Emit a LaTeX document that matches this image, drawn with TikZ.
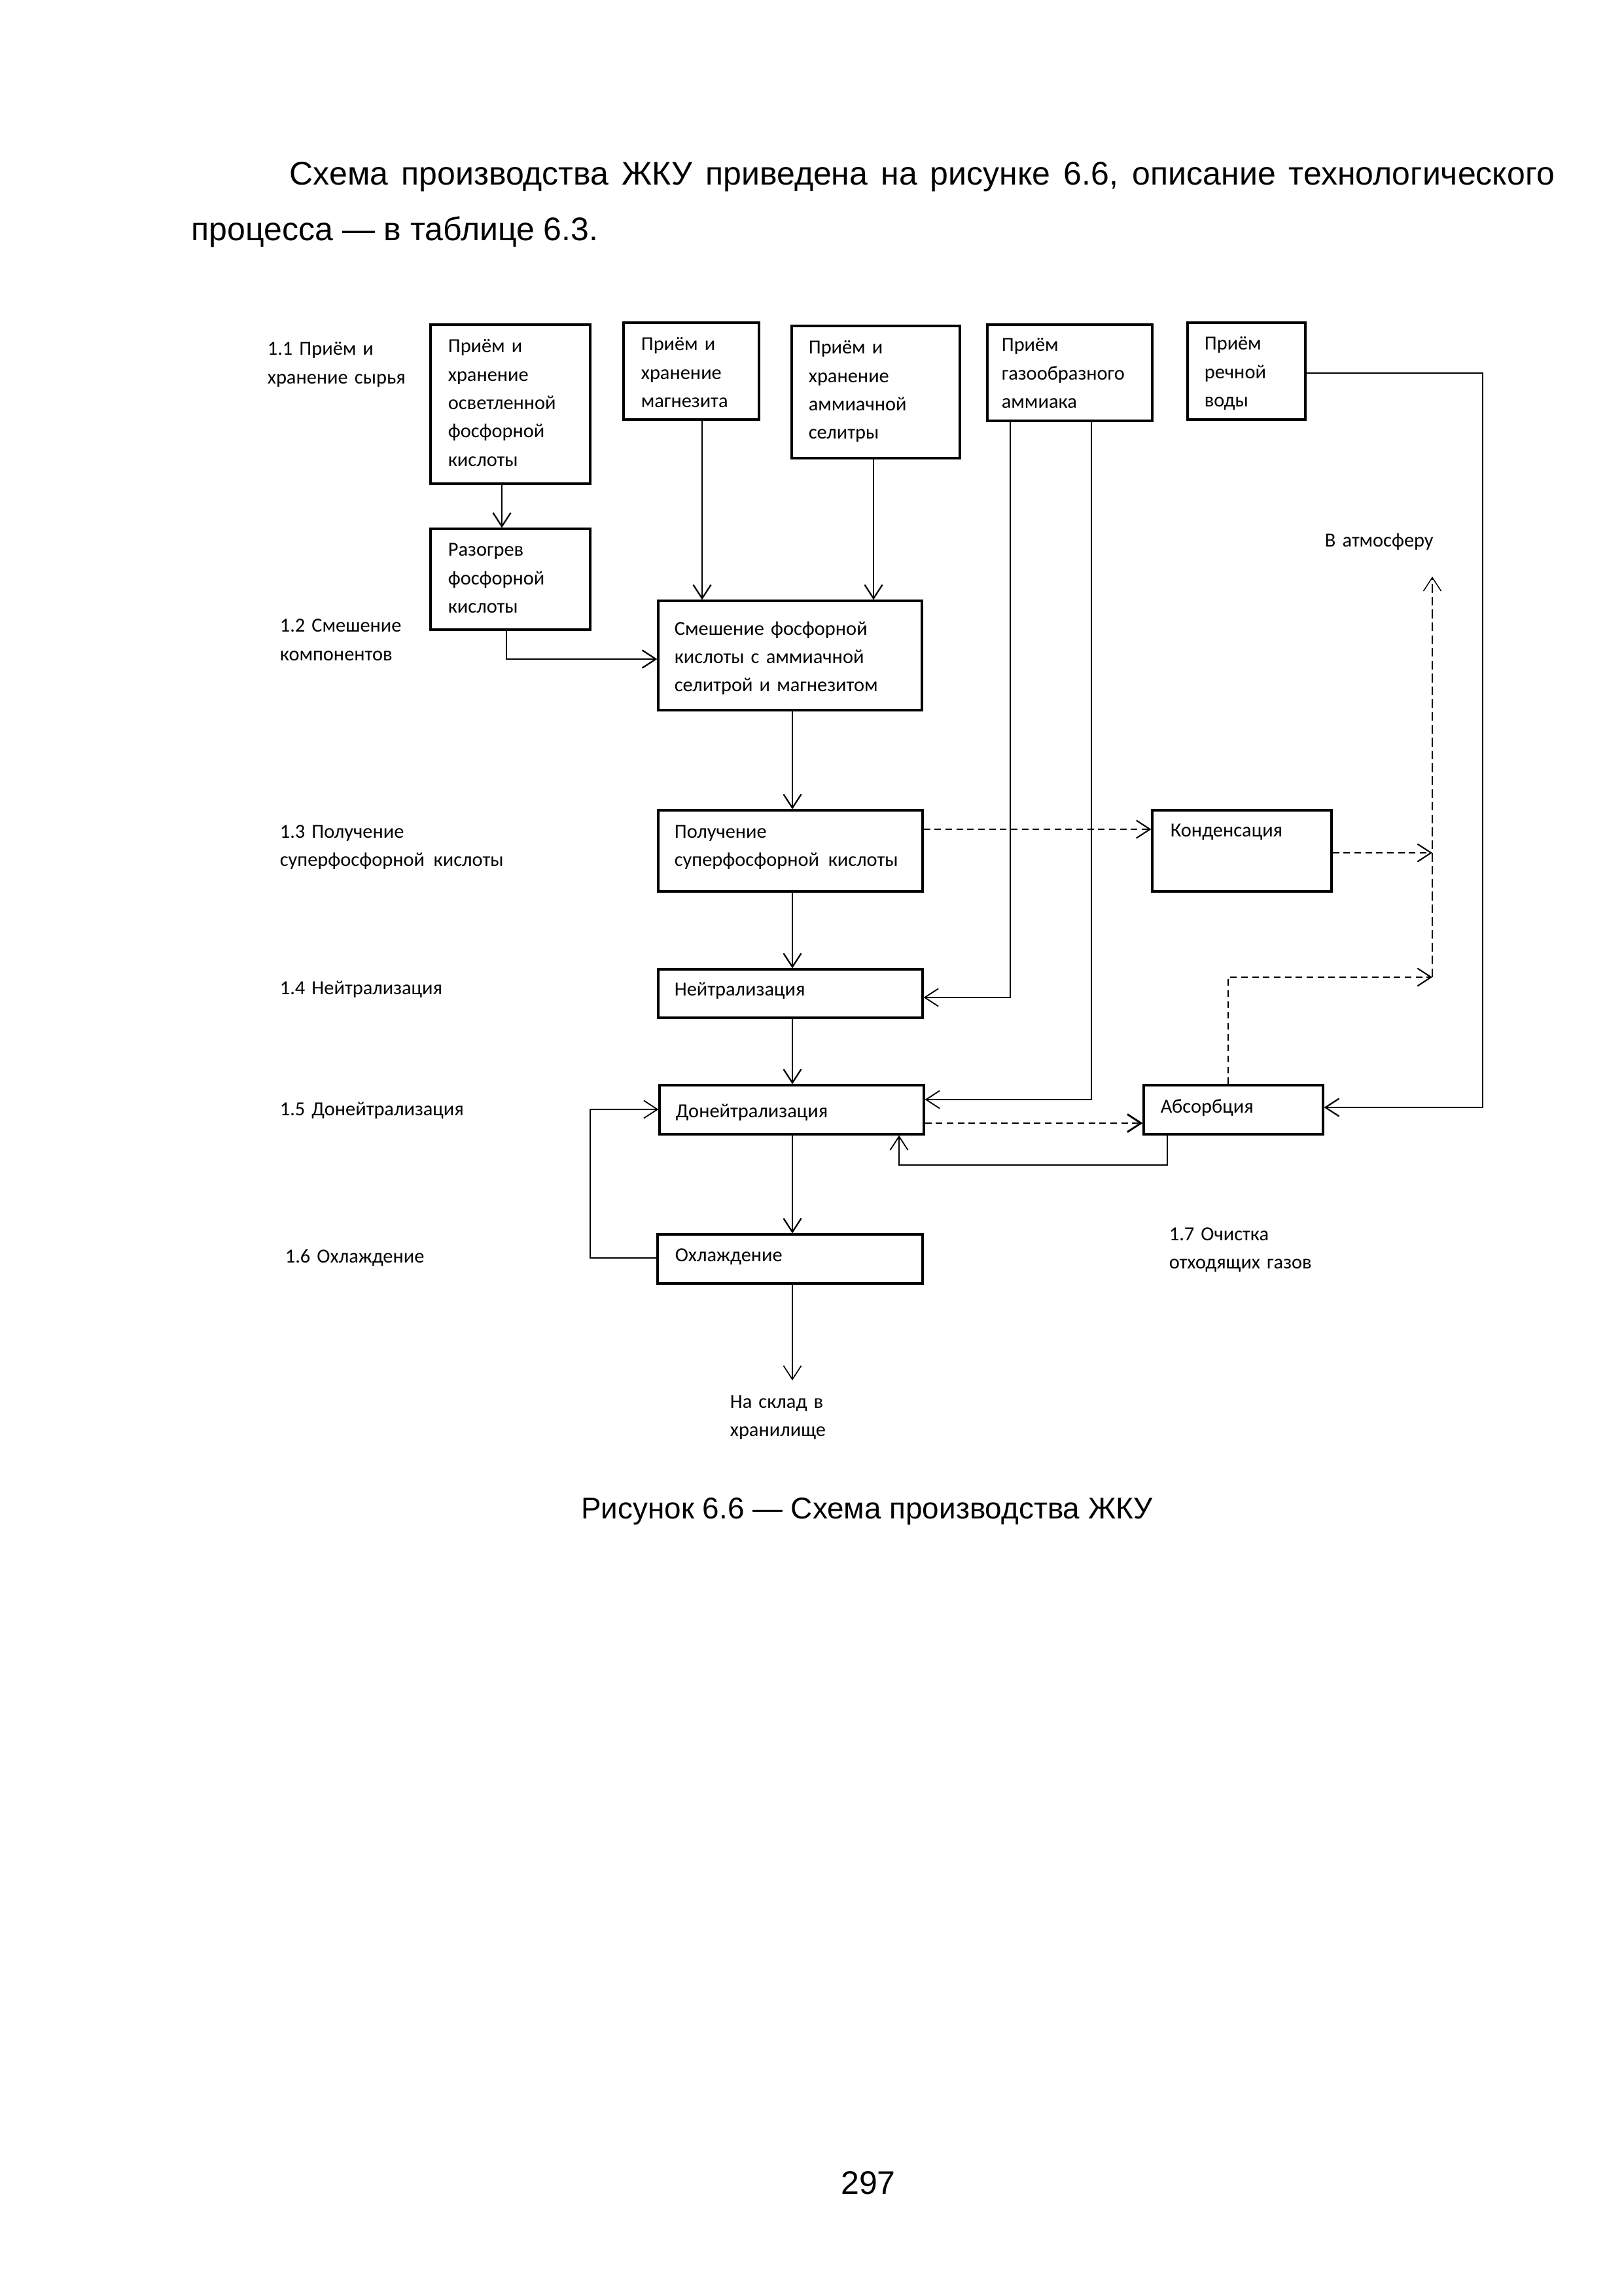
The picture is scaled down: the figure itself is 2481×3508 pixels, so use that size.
\documentclass[tikz,border=0pt]{standalone}
\usepackage{fontspec}
\setmainfont{Liberation Sans}
\newfontfamily\dfont{Carlito}
\usetikzlibrary{arrows.meta,fit,calc}
\begin{document}
\begin{tikzpicture}[x=0.24pt,y=-0.24pt,
  box/.style={draw, line width=0.75pt, inner sep=0pt},
  txt/.style={font=\dfont\fontsize{7.3pt}{10.4pt}\selectfont, text width=60mm, align=left, inner sep=0pt, anchor=base west},
  tip/.style={-{Straight Barb[length=5pt,width=6.5pt]}},
  conn/.style={line width=0.55pt, tip},
  thinconn/.style={line width=0.45pt, tip},
  dashh/.style={line width=0.5pt, dash pattern=on 2.4pt off 1.6pt},
  dashv/.style={line width=0.35pt, dash pattern=on 3.2pt off 1.5pt},
  body/.style={font=\fontsize{12pt}{20.2pt}\selectfont, inner sep=0pt},
  captxt/.style={font=\fontsize{11pt}{13pt}\selectfont, inner sep=0pt}]
\fill[white] (0,0) rectangle (2481,3508);
\useasboundingbox (0,0) rectangle (2481,3508);

% paragraph
\node[body, anchor=base west, text width=500pt, align=justify] (para) at (292,283)
  {\hyphenpenalty=10000\hspace*{36pt}Схема производства ЖКУ приведена на рисунке 6.6, описание технологического процесса — в таблице 6.3.};

% boxes
\node[box, fit={(658,496) (902,739)}] (bA) {};
\node[box, fit={(953,493) (1160,641)}] (bB) {};
\node[box, fit={(1210,498) (1467,700)}] (bC) {};
\node[box, fit={(1509,496) (1761,643)}] (bD) {};
\node[box, fit={(1815,493) (1995,641)}] (bE) {};
\node[box, fit={(658,808) (902,962)}] (bRaz) {};
\node[box, fit={(1006,918) (1409,1085)}] (bMix) {};
\node[box, fit={(1006,1238) (1410,1362)}] (bPol) {};
\node[box, fit={(1761,1238) (2035,1362)}] (bKond) {};
\node[box, fit={(1006,1481) (1410,1555)}] (bNeut) {};
\node[box, fit={(1008,1658) (1412,1733)}] (bDon) {};
\node[box, fit={(1748,1658) (2022,1733)}] (bAbs) {};
\node[box, fit={(1005,1886) (1410,1961)}] (bOhl) {};

% box texts
\node[txt] (tA) at (684,539) {Приём и\\хранение\\осветленной\\фосфорной\\кислоты};
\node[txt] (tB) at (979,536) {Приём и\\хранение\\магнезита};
\node[txt] (tC) at (1235,541) {Приём и\\хранение\\аммиачной\\селитры};
\node[txt] (tD) at (1530,537) {Приём\\газообразного\\аммиака};
\node[txt] (tE) at (1840,535) {Приём\\речной\\воды};
\node[txt] (tRaz) at (684,850) {Разогрев\\фосфорной\\кислоты};
\node[txt] (tMix) at (1030,970) {Смешение фосфорной\\кислоты с аммиачной\\селитрой и магнезитом};
\node[txt] (tPol) at (1030,1280) {Получение\\суперфосфорной\hspace{0.45em}кислоты};
\node[txt] (tKond) at (1788,1278) {Конденсация};
\node[txt] (tNeut) at (1030,1521) {Нейтрализация};
\node[txt] (tDon) at (1032,1707) {Донейтрализация};
\node[txt] (tAbs) at (1773,1700) {Абсорбция};
\node[txt] (tOhl) at (1031,1927) {Охлаждение};

% side labels
\node[txt] (l11) at (408,543) {1.1 Приём и\\хранение сырья};
\node[txt] (l12) at (427,966) {1.2 Смешение\\компонентов};
\node[txt] (l13) at (427,1280) {1.3 Получение\\суперфосфорной\hspace{0.45em}кислоты};
\node[txt] (l14) at (427,1519) {1.4 Нейтрализация};
\node[txt] (l15) at (427,1704) {1.5 Донейтрализация};
\node[txt] (l16) at (435,1929) {1.6 Охлаждение};
\node[txt] (l17) at (1786,1895) {1.7 Очистка\\отходящих газов};
\node[txt] (lAtm) at (2024,836) {В атмосферу};
\node[txt] (lOut) at (1115,2151) {На склад в\\хранилище};

% helper coordinates
\coordinate (xAR) at (767,0);
\coordinate (xBM) at (1073,0);
\coordinate (xCM) at (1335,0);
\coordinate (xRM) at (774,0);
\coordinate (xMain) at (1211,0);
\coordinate (xDL) at (1544,0);
\coordinate (xDR) at (1668,0);
\coordinate (xW) at (2266,0);
\coordinate (xAt) at (2189,0);
\coordinate (xAbsUp) at (1877,0);
\coordinate (xRet1) at (1784,0);
\coordinate (xRet2) at (1374,0);
\coordinate (xLoop) at (902,0);
\coordinate (yRM) at (0,1007);
\coordinate (yDL) at (0,1524);
\coordinate (yDR) at (0,1680);
\coordinate (yW1) at (0,570);
\coordinate (yW2) at (0,1692);
\coordinate (yK) at (0,1267);
\coordinate (yKo) at (0,1303);
\coordinate (yAbs) at (0,1493);
\coordinate (yRet) at (0,1780);
\coordinate (yLoop1) at (0,1695);
\coordinate (yLoop2) at (0,1922);
\coordinate (yDA) at (0,1716);
\coordinate (atm) at (2189,881);
\coordinate (out) at (1211,2109);

% solid connectors
\draw[conn] (bA.south -| xAR) -- (bRaz.north -| xAR);
\draw[conn] (bB.south -| xBM) -- (bMix.north -| xBM);
\draw[conn] (bC.south -| xCM) -- (bMix.north -| xCM);
\draw[conn] (bRaz.south -| xRM) |- (bMix.west |- yRM);
\draw[conn] (bMix.south -| xMain) -- (bPol.north -| xMain);
\draw[conn] (bPol.south -| xMain) -- (bNeut.north -| xMain);
\draw[conn] (bNeut.south -| xMain) -- (bDon.north -| xMain);
\draw[conn] (bDon.south -| xMain) -- (bOhl.north -| xMain);
\draw[thinconn] (bD.south -| xDL) |- (bNeut.east |- yDL);
\draw[thinconn] (bD.south -| xDR) |- (bDon.east |- yDR);
\draw[conn] (bE.east |- yW1) -| (xW |- yW2) -- (bAbs.east |- yW2);
\draw[thinconn] (bAbs.south -| xRet1) |- (xRet2 |- yRet) -- (bDon.south -| xRet2);
\draw[thinconn] (bOhl.west |- yLoop2) -| (xLoop |- yLoop1) -- (bDon.west |- yLoop1);
\draw[line width=0.4pt, tip] (bOhl.south -| xMain) -- (out);

% dashed connectors
\draw[dashh, tip] (bPol.east |- yK) -- (bKond.west |- yK);
\draw[dashh, tip] (bKond.east |- yKo) -- (xAt |- yKo);
\draw[dashh, tip] (bAbs.north -| xAbsUp) |- (xAt |- yAbs);
\draw[dashv, tip] (xAt |- yAbs) -- (atm);
\draw[dashh, line width=0.7pt, tip] (bDon.east |- yDA) -- (bAbs.west |- yDA);

% caption and page number
\node[captxt, anchor=base] (cap) at (1325,2320) {Рисунок 6.6 — Схема производства ЖКУ};
\node[body, anchor=base] (pnum) at (1327,3352) {297};
\end{tikzpicture}
\end{document}
